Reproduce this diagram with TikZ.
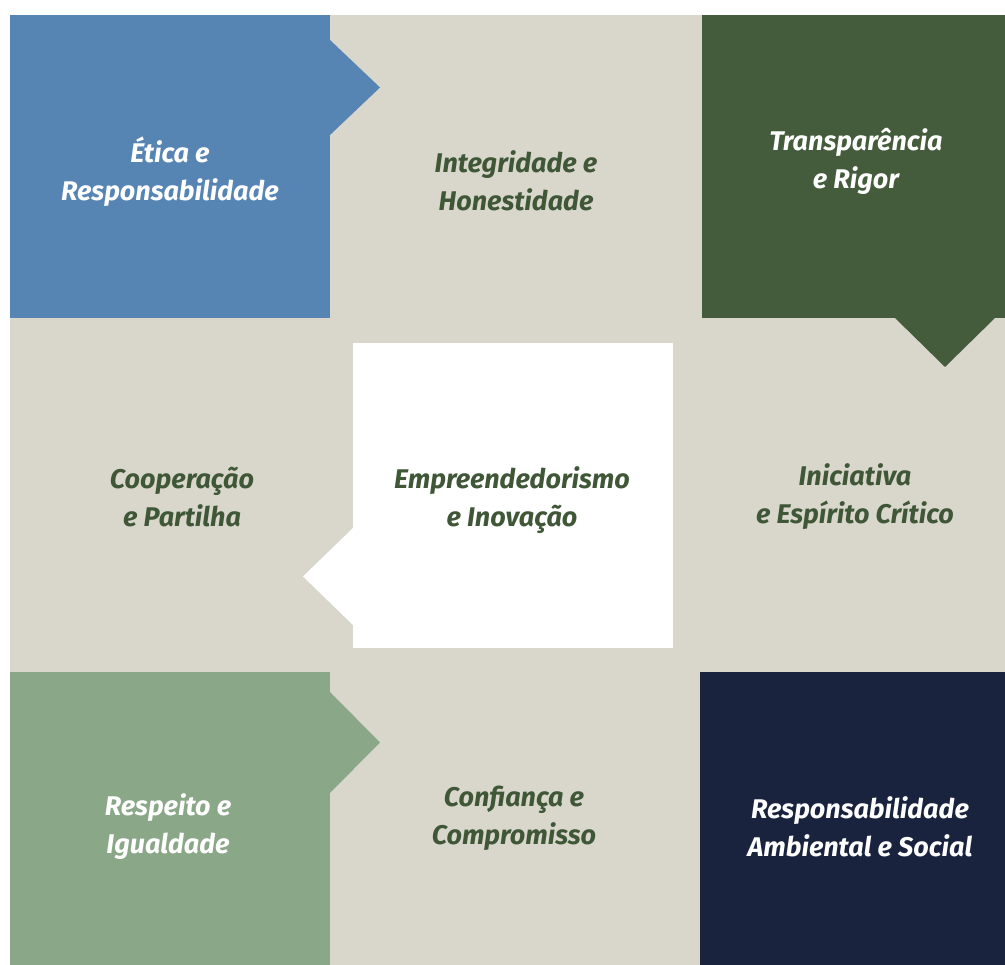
\documentclass[tikz,border=0pt]{standalone}
\usepackage{fontspec}
\setmainfont{Fira Sans}
\definecolor{beige}{HTML}{D9D7CC}
\definecolor{azul}{HTML}{5685B3}
\definecolor{verde}{HTML}{445B3C}
\definecolor{verdeclaro}{HTML}{8AA888}
\definecolor{marinho}{HTML}{19233D}
\definecolor{texto}{HTML}{3F5637}
\tikzset{%
  box/.style = {rectangle,inner sep=0pt,outer sep=0pt,
        anchor=north west},
  lbl/.style = {align=center,
        font=\fontsize{27}{38}\selectfont\bfseries\itshape},
  claro/.style = {lbl,text=white},
  escuro/.style = {lbl,text=texto}
}

\begin{document}
\begin{tikzpicture}[x=1pt,y=1pt]
    \useasboundingbox (0,0) rectangle (1005,965);
    \fill[beige] (10,0) rectangle (1005,950);

    \node[box,fill=azul,minimum width=320pt,minimum height=303pt] (etica-box) at (10,950) {};
    \node[box,fill=verde,minimum width=303pt,minimum height=303pt] (transp-box) at (702,950) {};
    \node[box,fill=white,minimum width=320pt,minimum height=305pt] (centro-box) at (353,622) {};
    \node[box,fill=verdeclaro,minimum width=320pt,minimum height=293pt] (respeito-box) at (10,293) {};
    \node[box,fill=marinho,minimum width=305pt,minimum height=293pt] (amb-box) at (700,293) {};

    % setas
    \fill[azul] (etica-box.north east) ++(0,-25) -- ++(50,-47.5) -- ++(-50,-47.5) -- cycle;
    \fill[verde] (transp-box.south east) ++(-10,0) -- ++(-50,-49) -- ++(-50,49) -- cycle;
    \fill[white] (centro-box.south west) ++(0,23) -- ++(-50,48.5) -- ++(50,48.5) -- cycle;
    \fill[verdeclaro] (respeito-box.north east) ++(0,-20) -- ++(50,-50.5) -- ++(-50,-50.5) -- cycle;

    \node[claro] (etica) at (170,793) {Ética e\\Responsabilidade};
    \node[escuro] (integridade) at (516,784) {Integridade e\\Honestidade};
    \node[claro] (transparencia) at (856,804) {Transparência\\e Rigor};
    \node[escuro] (cooperacao) at (182,468) {Cooperação\\e Partilha};
    \node[escuro] (empreendedorismo) at (512,465) {Empreendedorismo\\e Inovação};
    \node[escuro] (iniciativa) at (855,468) {Iniciativa\\e Espírito Crítico};
    \node[claro] (respeito) at (168,138) {Respeito e\\Igualdade};
    \node[escuro] (confianca) at (514,147) {Confiança e\\Compromisso};
    \node[claro] (responsabilidade) at (860,138) {Responsabilidade\\Ambiental e Social};
\end{tikzpicture}
\end{document}
